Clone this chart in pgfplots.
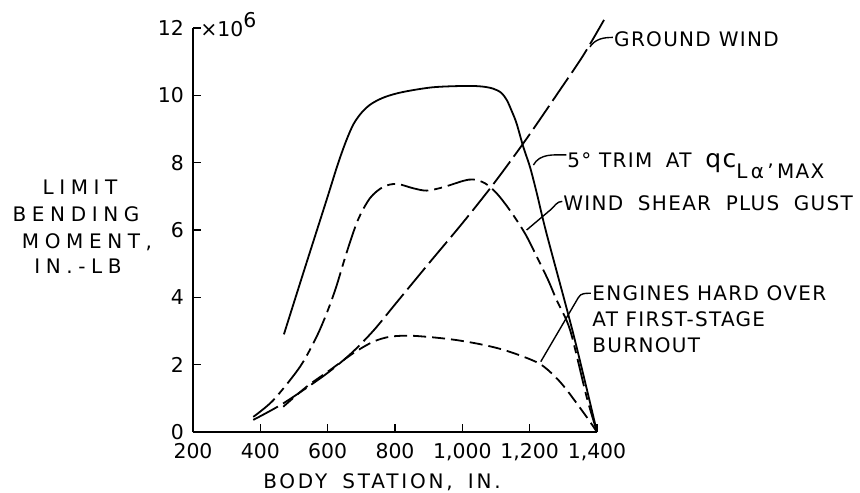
\documentclass[border=0pt]{standalone}
\usepackage{pgfplots}
\pgfplotsset{compat=1.18}
\usepackage{fontspec}
\setmainfont{DejaVu Sans}[LetterSpace=6.5]
\newfontfamily\tickfont{DejaVu Sans}
\newfontfamily\ylabfont{DejaVu Sans}[LetterSpace=28]
\newfontfamily\xlabfont{DejaVu Sans}[LetterSpace=14]
\begin{document}
\begin{tikzpicture}
\path[use as bounding box] (0pt,0pt) rectangle (430pt,246pt);
\begin{axis}[
  at={(96.5pt,30pt)}, anchor=south west,
  scale only axis, width=202pt, height=202pt,
  xmin=200, xmax=1400, ymin=0, ymax=12,
  axis x line=bottom, axis y line=left,
  axis line style={-, line width=1pt},
  tick align=inside,
  xtick={200,400,...,1400}, ytick={0,2,...,12},
  tick style={line width=0.8pt, black},
  major tick length=4pt,
  clip=false,
  /pgf/number format/assume math mode=true,
  ticklabel style={font=\tickfont\fontsize{10.2}{12}\selectfont},
  xticklabel style={anchor=base, yshift=-13.2pt},
  yticklabel style={anchor=east, xshift=-1pt},
  every axis plot/.append style={line width=0.9pt, black, no markers, smooth, tension=0.5},
]
% 5 deg trim (solid)
\addplot[black, solid, no markers] coordinates {(470,2.9) (530,4.8) (597,6.9) (630,7.95) (655,8.65) (677,9.15) (702,9.5) (730,9.75) (770,9.95) (824,10.1) (913,10.24) (1013,10.28) (1060,10.26) (1091,10.2) (1115,10.08) (1132,9.86) (1146,9.55) (1161,9.17) (1181,8.47) (1201,7.87) (1221,7.1) (1250,5.9) (1330,2.9) (1400,0)};
% ground wind (long dash)
\addplot[dash pattern=on 14pt off 3pt] coordinates {(379,0.36) (468,0.85) (587,1.66) (666,2.3) (735,3.0) (805,3.85) (904,5.05) (1000,6.2) (1092,7.36) (1190,8.7) (1290,10.16) (1360,11.2) (1426,12.33)};
% wind shear plus gust (dash-dot)
\addplot[dash pattern=on 14pt off 3pt on 4pt off 3pt] coordinates {(379,0.45) (439,0.95) (518,1.94) (567,2.83) (598,3.55) (625,4.3) (657,5.35) (690,6.3) (726,6.95) (765,7.28) (805,7.37) (854,7.24) (894,7.17) (943,7.27) (1003,7.46) (1033,7.5) (1067,7.39) (1102,7.09) (1141,6.59) (1186,5.9) (1221,5.21) (1255,4.51) (1280,3.92) (1320,3.03) (1369,1.05) (1400,0)};
% engines hard over (short dash)
\addplot[dash pattern=on 6.5pt off 3pt] coordinates {(468,0.75) (538,1.35) (607,1.84) (676,2.34) (735,2.68) (785,2.83) (844,2.86) (914,2.81) (983,2.73) (1052,2.61) (1112,2.47) (1170,2.28) (1231,2.02) (1275,1.65) (1310,1.25) (1369,0.45) (1400,0)};
% leaders
\draw[line width=0.7pt] (axis cs:1379,11.44) to[out=55,in=180] (axis cs:1447,11.72);
\draw[line width=0.7pt] (axis cs:1211,7.93) to[out=60,in=180] (axis cs:1309,8.23);
\draw[line width=0.7pt] (axis cs:1191,6.0) -- (axis cs:1262,6.6) to[out=40,in=180] (axis cs:1297,6.85);
\draw[line width=0.7pt] (axis cs:1233,2.09) -- (axis cs:1345,4.0) to[out=60,in=180] (axis cs:1382,4.12);
% annotation texts
\node[anchor=base west, inner sep=0] at (axis cs:1450,11.44) {GROUND\hspace{0.4em}WIND};
\node[anchor=base west, inner sep=0] at (axis cs:1311,7.87) {5° TRIM\hspace{0.3em} AT\hspace{0.3em} {\fontsize{12.5}{14}\selectfont qc}\raisebox{-5.5pt}{L\,α\,'\,MAX}};
\node[anchor=base west, inner sep=0] at (axis cs:1299,6.59) {WIND\hspace{0.35em} SHEAR\hspace{0.35em} PLUS\hspace{0.35em} GUST};
\node[anchor=base west, inner sep=0] at (axis cs:1385,3.90) {ENGINES HARD OVER};
\node[anchor=base west, inner sep=0] at (axis cs:1385,3.13) {AT FIRST-STAGE};
\node[anchor=base west, inner sep=0] at (axis cs:1385,2.36) {BURNOUT};
\end{axis}
% y label
\node[anchor=base, inner sep=0, font=\ylabfont] at (40pt,148.5pt) {LIMIT};
\node[anchor=base, inner sep=0, font=\ylabfont] at (38pt,135.2pt) {BENDING};
\node[anchor=base, inner sep=0, font=\ylabfont] at (43.5pt,121.5pt) {MOMENT,};
\node[anchor=base, inner sep=0, font=\ylabfont] at (39pt,109pt) {IN.-LB};
% x label
\node[anchor=base, inner sep=0, font=\xlabfont] at (191pt,2pt) {BODY\hspace{0.3em} STATION,\hspace{0.3em} IN.};
% multiplier
\node[anchor=base west, inner sep=0, font=\tickfont\fontsize{10.2}{12}\selectfont] at (100pt,227.5pt) {×10\raisebox{4.5pt}{6}};
\end{tikzpicture}
\end{document}
